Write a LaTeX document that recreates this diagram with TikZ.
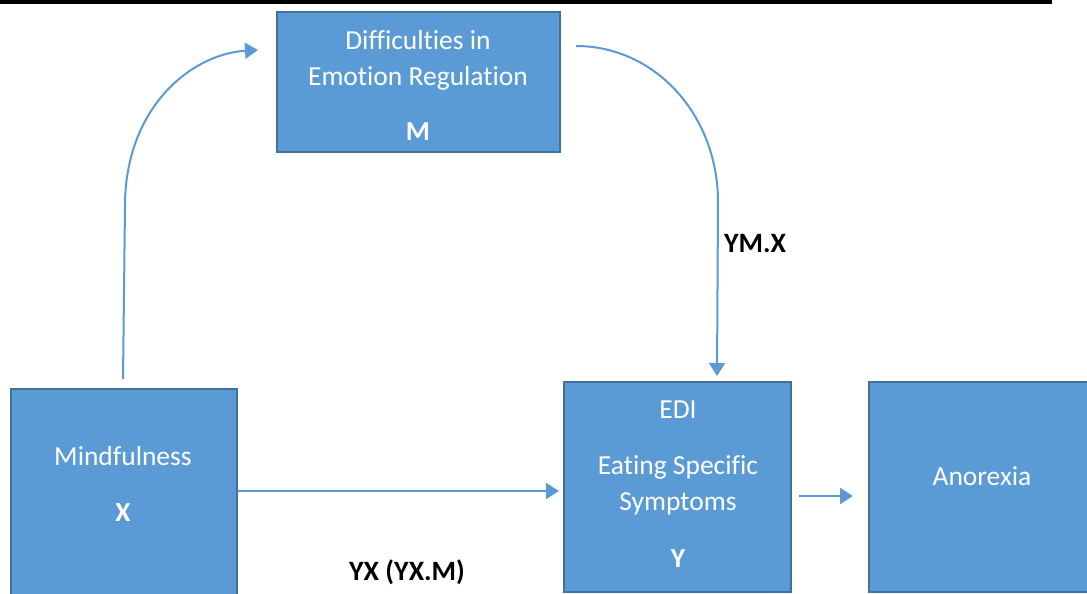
\documentclass[tikz,border=0pt]{standalone}
\usepackage{fontspec}
\setmainfont[Ligatures=NoCommon]{Carlito}
\usetikzlibrary{arrows.meta,calc}
\definecolor{boxfill}{HTML}{5B9BD5}
\definecolor{boxline}{HTML}{41719C}
\definecolor{arrowc}{HTML}{5B9BD5}
\begin{document}
\begin{tikzpicture}[x=1pt,y=-1pt,
  box/.style={draw=boxline,line width=2pt,fill=boxfill,inner sep=0pt,rectangle},
  txt/.style={text=white,font=\fontsize{27.5}{33}\selectfont,anchor=base,inner sep=0pt},
  btxt/.style={text=white,font=\fontsize{27.5}{33}\selectfont\bfseries,anchor=base,inner sep=0pt},
  lbl/.style={text=black,font=\fontsize{28}{33}\selectfont\bfseries,anchor=base,inner sep=0pt},
  arr/.style={draw=arrowc,line width=2pt,-{Triangle[width=16pt,length=13pt]}}]
\clip (0,0) rectangle (1087,594);
\fill[white] (0,0) rectangle (1087,594);
\draw[black,line width=3.5pt] (0,2) -- (1052,2);
% boxes
\node[box,minimum width=283pt,minimum height=140pt] (M) at (418.5,82) {};
\node[box,minimum width=226pt,minimum height=211pt] (X) at (124,494.5) {};
\node[box,minimum width=227pt,minimum height=210pt] (Y) at (677.5,487) {};
\node[box,minimum width=226pt,minimum height=210pt] (A) at (982,487) {};
% texts
\node[txt] (m1) at (418,50) {Difficulties in};
\node[txt] (m2) at (418,85) {Emotion Regulation};
\node[btxt] (m3) at (418,140.5) {M};
\node[txt] (x1) at (123,465.5) {Mindfulness};
\node[btxt] (x2) at (123,521) {X};
\node[txt] (y1) at (678,418.5) {EDI};
\node[txt] (y2) at (678,474) {Eating Specific};
\node[txt] (y3) at (678,510) {Symptoms};
\node[btxt] (y4) at (678,567) {Y};
\node[txt] (a1) at (982,485) {Anorexia};
\node[lbl] (l1) at (755,252) {YM.X};
\node[lbl] (l2) at (407,580) {YX (YX.M)};
% connectors
\draw[arr] ($(X.north)+(-1,-9)$) -- ($(X.north)+(1,-182)$)
  .. controls ($(X.north)+(1,-280)$) and ($(M.west)+(-85,-28)$) .. ($(M.west)+(-18,-32)$);
\draw[arr] ($(M.east)+(15,-36)$) .. controls ($(M.east)+(95,-36)$) and ($(Y.north)+(40.5,-265)$) .. ($(Y.north)+(40.5,-179)$) -- ($(Y.north)+(39.5,-5)$);
\draw[arr] ($(X.east)+(0,-3.5)$) -- ($(Y.west)+(-4,4)$);
\draw[arr] ($(Y.east)+(7,9)$) -- ($(A.west)+(-15,9)$);
\end{tikzpicture}
\end{document}
